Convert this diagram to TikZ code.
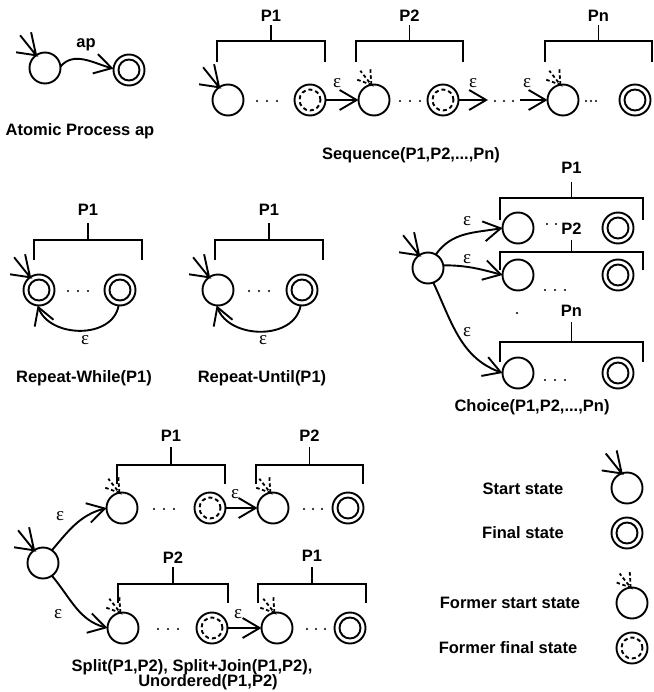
\documentclass[tikz,border=0pt]{standalone}
\usepackage{fontspec}
\setmainfont{Liberation Sans}
\newfontfamily\epsfont{Liberation Serif}
\usetikzlibrary{arrows.meta,calc}
\newcommand\pbrace[8]{% name xl xr ytop ybot ytick labely label
  \draw[brace] (#2,#5) -- (#2,#4) -- (#3,#4) -- (#3,#5);
  \draw[brace] ({(#2+#3)/2},#4) -- ({(#2+#3)/2},#6);
  \node[lbl] (#1) at ({(#2+#3)/2},#7) {#8};}
\newcommand\threedots[3]{\foreach \k in {-1,0,1}{\fill ({#1+\k*#3},#2) circle (1.2pt);}}
\newcommand\startglyph[2]{%
  \draw[glyph] ([shift={(-20,-3)}]#1.#2) -- (#1.#2) -- ([shift={(-16,-20)}]#1.#2)
    (#1.#2) -- ([shift={(-5,-23)}]#1.#2);}
\newcommand\formerglyph[2]{%
  \draw[fglyph] ([shift={(-14,-5)}]#1.#2) -- (#1.#2) -- ([shift={(-11,-14)}]#1.#2)
    (#1.#2) -- ([shift={(-1,-17)}]#1.#2);}
\begin{document}
\begin{tikzpicture}[x=1pt,y=-1pt,
  lw/.style={line width=1.9pt},
  state/.style={circle,draw,lw,minimum size=31pt,inner sep=0pt,outer sep=0pt},
  final/.style={state,path picture={\draw[lw] (path picture bounding box.center) circle (10.5pt);}},
  ffinal/.style={state,path picture={\draw[lw,dash pattern=on 4pt off 3pt] (path picture bounding box.center) circle (10.5pt);}},
  arr/.style={lw,-{Straight Barb[length=17pt,width=20pt,line width=1.9pt]}},
  glyph/.style={lw},
  fglyph/.style={line width=1.8pt,dash pattern=on 3.5pt off 2.5pt},
  lbl/.style={font=\fontsize{16.5}{19}\selectfont\bfseries,inner sep=0pt},
  eps/.style={font=\epsfont\fontsize{19}{20}\selectfont,inner sep=0pt},
  brace/.style={lw}
]
\useasboundingbox (0,0) rectangle (653,692);

% ---------- Atomic process ----------
\node[state] (a0) at (45,68) {};
\node[final] (a1) at (129,70) {};
\startglyph{a0}{125}
\draw[arr] (a0.5) to[out=50,in=165] (a1.175);
\node[lbl] (ap) at (86,45) {ap};
\node[lbl] (atitle) at (80,131) {Atomic Process ap};

% ---------- Sequence ----------
\node[state] (s1) at (228,100) {};
\node[ffinal] (s2) at (310,100) {};
\node[state] (s3) at (374,100) {};
\node[ffinal] (s4) at (443,100) {};
\node[state] (s5) at (563,100) {};
\node[final] (s6) at (635,100) {};
\coordinate (e1) at (488,100);
\coordinate (e2) at (520,100);
\startglyph{s1}{125}
\formerglyph{s3}{100}
\formerglyph{s5}{100}
\threedots{267}{101}{10}
\threedots{410}{101}{10}
\threedots{504}{101}{9}
\threedots{591}{101}{5}
\draw[arr] (s2.east) -- (s3.west);
\draw[arr] (s4.east) -- (e1);
\draw[arr] (e2) -- (s5.west);
\node[eps] (se1) at (337,83) {ε};
\node[eps] (se2) at (473,83) {ε};
\node[eps] (se3) at (527,83) {ε};
\pbrace{sp1}{217}{325}{41}{62}{25}{16}{P1}
\pbrace{sp2}{356}{463}{41}{62}{25}{16}{P2}
\pbrace{spn}{545}{652}{41}{62}{25}{16}{Pn}
\node[lbl] (stitle) at (411,155) {Sequence(P1,P2,...,Pn)};

% ---------- Repeat-While ----------
\node[final] (w1) at (39,290) {};
\node[final] (w2) at (120,290) {};
\startglyph{w1}{125}
\threedots{78}{291}{10}
\draw[arr] (w2.-95) to[out=-100,in=-70,looseness=1.1] (w1.-95);
\node[eps] (we) at (85,340) {ε};
\pbrace{wp1}{34}{142}{240}{260}{223}{210}{P1}
\node[lbl] (wtitle) at (84,378) {Repeat-While(P1)};

% ---------- Repeat-Until ----------
\node[state] (u1) at (218,290) {};
\node[final] (u2) at (302,290) {};
\startglyph{u1}{125}
\threedots{259}{291}{10}
\draw[arr] (u2.-95) to[out=-100,in=-70,looseness=1.1] (u1.-95);
\node[eps] (ue) at (263,340) {ε};
\pbrace{up1}{215}{323}{240}{260}{223}{210}{P1}
\node[lbl] (utitle) at (262,378) {Repeat-Until(P1)};

% ---------- Choice ----------
\node[state] (c0) at (428,268) {};
\startglyph{c0}{125}
\node[state] (c1) at (518,228) {};
\node[final] (c1f) at (618,228) {};
\node[state] (c2) at (518,275) {};
\node[final] (c2f) at (618,275) {};
\node[state] (c3) at (518,373) {};
\node[final] (c3f) at (618,373) {};
\draw[arr] (c0.60) to[out=55,in=190] (c1.west);
\draw[arr] (c0.10) to[out=0,in=165] (c2.west);
\draw[arr] (c0.-70) to[out=-65,in=160] (c3.west);
\node[eps] (ce1) at (467,221) {ε};
\node[eps] (ce2) at (467,259) {ε};
\node[eps] (ce3) at (467,332) {ε};
\fill (547,224) circle (1.2pt);
\fill (556,224) circle (1.2pt);
\threedots{555}{290}{10}
\threedots{555}{380}{10}
\fill (517,313) circle (1.2pt);
\pbrace{cp1}{500}{643}{198}{220}{182}{168}{P1}
\pbrace{cp2}{500}{643}{252}{270}{240}{229}{P2}
\pbrace{cpn}{500}{643}{342}{362}{322}{311}{Pn}
\node[lbl] (ctitle) at (532,407) {Choice(P1,P2,...,Pn)};

% ---------- Split ----------
\node[state] (p0) at (43,563) {};
\startglyph{p0}{125}
\node[state] (t1) at (122,508) {};
\node[ffinal] (t2) at (210,508) {};
\node[state] (t3) at (273,508) {};
\node[final] (t4) at (348,508) {};
\node[state] (b1) at (123,628) {};
\node[ffinal] (b2) at (212,628) {};
\node[state] (b3) at (277,628) {};
\node[final] (b4) at (350,628) {};
\formerglyph{t1}{100}
\formerglyph{t3}{100}
\formerglyph{b1}{100}
\formerglyph{b3}{100}
\threedots{164}{509}{10}
\threedots{313}{509}{9}
\threedots{168}{629}{10}
\threedots{316}{629}{9}
\draw[arr] (p0.55) to[out=50,in=195] (t1.west);
\draw[arr] (p0.-55) to[out=-50,in=165] (b1.west);
\draw[arr] (t2.east) -- (t3.west);
\draw[arr] (b2.east) -- (b3.west);
\node[eps] (pe1) at (60,516) {ε};
\node[eps] (pe2) at (235,494) {ε};
\node[eps] (pe3) at (58,614) {ε};
\node[eps] (pe4) at (238,614) {ε};
\pbrace{tp1}{117}{225}{465}{484}{447}{436}{P1}
\pbrace{tp2}{256}{363}{465}{484}{447}{436}{P2}
\pbrace{bp2}{118}{228}{584}{603}{567}{558}{P2}
\pbrace{bp1}{258}{366}{584}{603}{567}{556}{P1}
\node[lbl] (ptitle1) at (192,667) {Split(P1,P2), Split+Join(P1,P2),};
\node[lbl] (ptitle2) at (208,682) {Unordered(P1,P2)};

% ---------- Legend ----------
\node[lbl] (l1t) at (523,489) {Start state};
\node[state] (l1) at (627,488) {};
\startglyph{l1}{110}
\node[lbl] (l2t) at (523,533) {Final state};
\node[final] (l2) at (627,533) {};
\node[lbl] (l3t) at (510,603) {Former start state};
\node[state] (l3) at (632,603) {};
\formerglyph{l3}{95}
\node[lbl] (l4t) at (508,648) {Former final state};
\node[ffinal] (l4) at (632,648) {};
\end{tikzpicture}
\end{document}
